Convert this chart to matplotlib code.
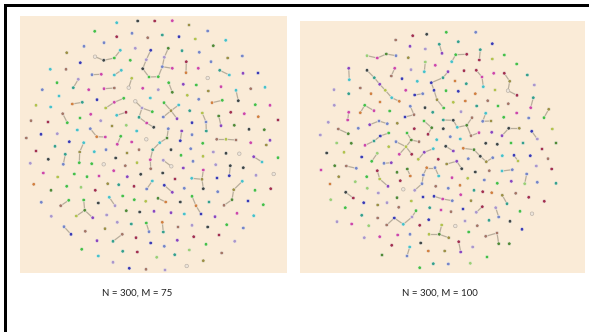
import matplotlib
matplotlib.use("Agg")
import matplotlib.pyplot as plt
from matplotlib.patches import Rectangle
from matplotlib.collections import LineCollection

# ---------------- data (reference pixel coordinates, y downward) ----------------
captions = ["N = 300, M = 75", "N = 300, M = 100"]

x1 = [116.7,137.7,94.7,116.7,132,147.7,104,84,135.3,150.7,66.7,95,103.7,114.3,120.3,80.3,130.3,146.3,142.7,149,
      50.3,66,92,101.3,114.3,121.3,131.7,128.7,78.3,73.3,57,42.3,88.7,104,114.3,142.7,59,97,150.3,36,
      50.7,72.3,82.3,105.7,114.3,123.7,135.3,142,152.3,139,146.7,153.7,62.7,67.3,31,48,80,90.7,100.7,116.7,
      126,112,126.3,136.7,26.3,41,57.3,77.3,90.3,96.7,105.3,120.7,131.7,146.3,83.7,69.3,
      154.7,172.3,189,162.3,179,207.7,195.3,225.7,213.3,168.3,164.3,162.3,158.3,172.3,182,199.3,211,227.7,242.3,186.3,
      186,198.3,207.7,219.7,229.3,243,258,158.3,183.3,196.3,168.7,172.3,187.3,198.7,208.3,221,236,238.3,250.7,265,
      212,222.3,164,178.7,171,163.3,177,189.7,202.3,206,206.3,218.7,221,230.7,244.3,255.3,270,258.3,278,192,
      168.3,167,159.7,181.7,180.3,192,234.3,249,264.3,216.7,226,236,250.7,270,202.7,
      117.3,55,36,48.3,30.3,65.3,63.3,79.7,79.3,94.3,106,91.7,103.7,115.7,127,139,125.3,137,150.3,150.7,
      43.3,57.7,74.3,87,99,113.7,127.3,140.7,33.7,66.7,51,81,95.3,107.7,118.7,134,146.7,109.3,115,122.7,
      134.3,145.7,41.3,68.7,60.7,83.7,84.7,76.3,92.7,98.3,126.3,139.7,51.3,106.7,117.3,131.3,146.3,149,64,71,
      85.3,105,122.3,113,136,97,150.7,81.7,122.7,137.3,98.3,113,129.3,146,
      171,190.7,213.3,226,239.3,266.3,152.7,181,203,253.7,262,278,163.3,171.3,183.3,193,215.7,230.3,229.3,243.3,
      256,273.7,203.3,202,191.7,203.3,162.7,175,217,152.3,164.3,172.3,184.3,217.7,242.3,233.7,232,224,255,270.7,
      158,165.7,180.3,192,196,201,209,248,263.3,154,171,184.3,215,237,253.7,162.3,163.3,192,226.7,178,
      207.7,243.3,219,193.7,177.3,234.7,164.3,189.3,206,174.7,156.7,221.7,203.3,186.7,165]
y1 = [22.7,21,31.3,36.7,33.3,37.7,42.7,46.3,48.3,50.3,52.7,56.7,60.3,58,50.3,62.7,60.3,59.7,68.7,77,
      69.3,69.3,74.7,74.3,75,70.3,78.3,87.7,79.3,87.7,82.7,89.7,89.7,88.7,88,88.3,96,99.7,98,105.3,
      107,104,102.3,108,102.3,98.3,101.3,108,111.7,117.3,123,127.3,113.7,122.7,120.7,122,118,114.3,120.7,115.3,
      112.3,126,125.3,131,138,134.3,133.7,130,128.7,136.7,137,136.3,142,139.3,142.7,141.7,
      21,20.7,25,35,36.7,31,39,40.3,45.7,48.3,57.3,66.7,76.7,68.3,50.7,52.3,61.7,58,56,61.7,
      72.7,68.3,78,70.3,75,73.3,73,89.7,84.3,85,82.7,92.3,95.3,99.3,91,86.7,90.3,100.7,88.7,87.3,
      102.7,100.3,102.7,105,110.7,117,118.7,110.7,113,122,131,116,125.7,112.3,113.7,104.7,105.3,116.7,120,122.7,
      128.7,138,142.7,131,140.7,134.7,125.3,129.3,129.7,139.3,139.3,140,142.7,140.3,143.3,
      144.3,146.3,151,159.3,163.3,154.3,164.3,152,162.7,151.7,149.7,163.7,164.3,158,153,149.7,165.7,162.7,159.7,168.7,
      173,177,174,176.7,176,170.7,176.7,174.3,184.3,186.3,190.3,187.3,190.3,183.7,184.7,186.3,189,197.3,205.7,196,
      199.7,201.3,202.3,200.3,205.7,200,210.3,216,217.7,203,210.7,212,216.3,215,222.3,224,223,231.7,226.7,234.3,
      231.3,228.7,234.3,241.3,237.7,240.7,243,249.3,251.3,252,256,262.3,268.3,269.3,
      149.7,148.7,152,153.3,153.7,145,149.7,155.3,156.3,156.7,162,157.7,160.3,166.3,168,161.3,164.7,165.7,175.7,167.7,
      175.3,174,170,179.3,178.3,188.7,173,179,178,181,185.3,192.3,188.3,191.7,181.3,189.7,199.7,205.3,190.3,188.7,
      198.3,202,202,196.3,205.7,214,202,201,204.7,211.3,212.7,214,216.7,213.3,215.7,222.3,232,225.3,224.7,227,
      227,228,235,236.7,240.3,241.3,246.3,250,244.3,254.7,257.3,253,260.7,266,270]
c1 = ("ckgrsnsslb" "owkgcbglkg" "cnsmccywlt" "gsmmnmcbcy" "cetymgwlgt" "mkngnrgmlc" "roqcnblcse" "mgmwcb"
      "rmotbsycGG" "lsgmtssosr" "emwtcpblpg" "gGysomcknc" "eggcosptys" "tGprmgmerb" "sGcpbsGkGn" "ynmpg"
      "mtrkltsogc" "sgwkonnymn" "myggmmpkeg" "Gqrotrsclg" "gysgngGypk" "Gkllltgssb" "nontrpbgtr" "clbn"
      "kslkwotgyp" "cglwpslkbk" "lwmockkrbc" "bpsscoGngr" "Gekgebtbgp" "pcpmcetlgn" "ksrrplsqgt" "qnowl")
e1 = [(11,12),(12,13),(13,14),(9,17),(17,18),(18,19),(19,88),(22,23),(24,25),(26,27),(28,29),(33,34),
      (41,42),(43,44),(44,45),(46,47),(47,48),(47,49),(49,50),(50,51),(52,53),(59,60),(68,69),(69,70),(71,151),
      (85,86),(86,87),(87,88),(87,89),(95,96),(99,100),(106,107),(112,113),(116,117),(118,120),(119,120),
      (120,121),(120,122),(124,125),(125,126),(127,128),(136,137),(137,138),(139,140),(145,146),(146,147),
      (74,158),(158,159),(156,157),(188,189),(194,195),(196,197),(197,198),(197,199),(207,208),(209,210),(213,214),
      (138,231),(231,169),(169,170),(187,254),(234,235),(237,238),(242,243),(247,248),(249,248),(248,250),
      (255,256),(259,260),(260,261),(261,262),(265,266),(268,269),(269,270),(280,281)]

x2 = [395.7,412.7,426.7,410,425.3,439.3,442,367,377.3,386.3,396,408.3,435.3,425.3,424.3,348.7,349.3,367,374.3,379.7,
      385.3,391.7,399.3,394.7,391.3,411,402,417.3,431.3,443,434,437,334,348.7,360.3,371,405.7,414.7,422.7,334.3,
      348.7,347.7,364.7,360.3,374,380,389.7,410.3,414,405,425,432.7,328.3,338.3,348.3,358.3,369.7,379,387.3,397.3,
      414.3,424,431.7,428,320.3,336.7,351.3,365,374,380.3,388.7,396,407,411.3,419,436.7,
      446.3,475.7,458.3,492.3,455.7,466.7,451.7,480.3,479.3,504.3,492.3,516.7,448,464,476.3,482,483.3,493.7,504.3,509.7,
      508,517,527.3,534.3,455,466.3,446,458.3,475.3,495,453.3,465.3,476.7,487.7,498,508.3,533.3,530.7,443.7,461,
      485.7,482.7,491,472,466.7,457.3,453.3,443.3,471,479,503.7,516.7,528.7,491.7,502,508.7,519.3,531.7,537.3,544,
      548.7,552.3,443.3,450.3,460.3,485.7,497.3,511,523,556,
      445.7,453.3,463.3,474,480.3,486.3,492.7,502.3,514,518,530.3,542,548,551.7,536.3,456.7,446.7,461.7,468.3,475.3,
      489.3,502,512.3,526.7,524.7,452,467.7,484.3,497.3,511.3,537.3,556,448.3,460,474,482.7,491.7,502.3,507,515.7,
      528.7,544.3,442.7,452.3,460.7,471,463,451,482.3,476.3,495.7,498.7,520,532,455.3,465,477.3,489,510,522,
      448.7,468.7,485.7,497,498.7,509.3,458.7,460.7,472.7,444.7,487,448.3,470.3,
      326.7,344,361.7,377.3,371.7,388.7,399.3,406,411.7,384,391.3,424.3,433.3,418.3,438.3,426.7,435,438.7,423.3,422,
      414.7,321,334.7,346.3,356.3,338.7,355.3,366.7,377.3,379.7,388,397,400.3,407.3,410.3,330,367.3,378.3,403.3,435.7,
      345.7,353.3,330.7,363.7,377.7,387,397,411.3,423,434,345.3,361.7,377.7,398.7,416,429.7,441,337,351.7,368.7,
      386.7,394.3,403.3,412,419.7,428.7,429,439.3,441.7,364.3,379.7,397.7,410,420.7,391.7,409.7,407,428.3,382,419.7,
      433.3]
y2 = [40,35.7,34.3,46.3,49,44.3,53.3,55.7,58,54,55.7,57.7,65.3,62,71.7,68.3,79.7,70.3,77.7,84.3,
      90.3,97.7,101.3,68.3,76,69.7,78.7,81.3,82.7,77.7,90.3,99.7,89.7,93.7,88,93.7,90.3,95,93.7,105.3,
      112.3,120,105.3,112.7,110.7,102,111,106.3,114.7,117,107.7,112.3,122.3,129,133.7,128.3,124.7,121,123.7,123.3,
      128.7,121,127.7,134.3,135,143,143.3,145.3,141,136,133,141.7,133,140,141.7,139.7,
      32.3,32.3,41.7,43.7,54.7,54.3,61.7,49.7,60,55,59,64,71.7,70.7,70.3,77,86.7,73.3,73.3,81.3,
      90.7,95.3,75,85,81,83.7,90.7,91.3,93.7,90,102.3,101,106,100.7,106,103.7,97.7,107.7,108,111.7,
      113.3,121.3,121,117.7,125.3,127.3,120.3,120,135.7,132.7,117.3,113,118,132.3,135.7,128.3,128.3,131.3,139,117.7,
      109.3,129,128.7,136.7,139,143.3,144.3,143,143,143,
      146.3,151,148.3,149.7,156.3,161.7,157.7,155.7,155.3,161,155.7,149,158.7,169,166,161.3,164,168.7,158.7,172,
      170.7,171,169.7,174,183.7,177.7,178.3,180,183.3,181.3,182.3,183.3,188.3,185.3,190.3,191.7,192.7,195.3,203.7,193.3,
      197.3,201.3,199,200.7,194.7,200.7,209,211.7,206.7,212.3,207.7,217,211.3,213.7,226,221,225.7,220.3,221.3,229.3,
      237.7,232,236.3,233,243.7,243.7,241.7,252,247,251,257,264,263.3,
      153,152.3,157,153.3,161.3,146.7,154.3,146.7,154.3,163.3,162.7,152.3,148.7,159.3,159.3,167.7,167.7,176,175,183.7,
      190.3,170,165.7,166,168.3,176.7,181.7,176.7,170.7,179,186.3,172.3,180.7,169,176,184,188.3,193,189.3,186.3,
      192.3,198,199.7,202.7,205,202.7,197.7,201,197,196.3,207.7,215.3,218,207.3,210.7,207.7,210,221.7,224,225.7,
      225,218,224.3,217,225.3,219.7,234.3,234.3,225,237.7,236.7,235,234.3,243,245.3,247,256,251,255,267.7,
      263.7]
c2 = ("nrkpltpqmG" "somqcpcktp" "ycemnlbcbt" "boltnembsl" "mmgemegsnb" "ktlnGspsso" "rgGrlqGmtb" "gsgGnc"
      "gstbgrctrg" "ygprrmcmro" "wrtletgbey" "yetngntmgl" "csonGcktnm" "gmsppkoblg" "oyksckkgtG"
      "kpeGkoscby" "brnrlpoksk" "ncssqmysgp" "stsetreotn" "rrmsmobnrl" "lsgwwlntkb" "ognnGGrplo" "gsq"
      "kybqgymyrs" "ppcyrescss" "lmGnsoqgry" "pGrGeeqlwn" "krqbolGybb" "gtnngtmlmq" "nbclrbyGyl" "mmskrcseGg" "t")
e2 = [(5,6),(7,8),(8,9),(9,10),(13,14),(15,16),(17,18),(18,19),(19,20),(20,21),(21,22),(23,24),
      (28,29),(28,30),(30,31),(31,114),(29,88),(37,38),(40,41),(42,43),(42,44),(47,48),(48,49),(53,54),
      (56,57),(57,58),(61,62),(62,63),(67,68),(68,69),(69,70),(71,226),(226,225),(226,227),(73,226),(72,73),(73,74),
      (80,81),(80,82),(83,84),(90,91),(91,92),(94,95),(95,96),(96,97),(112,113),(116,117),(117,118),
      (123,122),(122,121),(121,120),(120,119),(120,124),(124,125),(130,131),(131,132),(133,134),(135,136),
      (146,147),(148,149),(149,150),(150,151),(151,152),(154,155),(162,161),(161,163),(167,168),(169,170),
      (183,184),(188,189),(194,195),(196,197),(208,209),(209,210),(212,213),
      (222,223),(228,229),(232,230),(230,231),(234,235),(235,236),(234,237),(237,238),(238,239),(242,243),
      (247,248),(248,249),(252,253),(259,260),(268,188),(279,280),(280,281),(281,282),(282,273),
      (285,286),(286,206),(286,287),(294,295)]

# ---------------- styles ----------------
palette = {
    'p': '#8b45bf', 'b': '#3a3ab5', 's': '#7585c8', 'l': '#ab96cc', 'g': '#45c045',
    'G': '#528a35', 'q': '#9ccf74', 'y': '#b4c24b', 'o': '#9d9045', 'k': '#3f4646',
    'n': '#a57666', 'r': '#a32f4e', 'm': '#d045a8', 'c': '#45c2ca', 't': '#35a08c',
    'e': '#d2803f', 'w': '#ece4da',
}
BG = '#FAEBD7'
EDGE = '#b8ae9c'

W, H = 589, 332
fig = plt.figure(figsize=(W / 100, H / 100), dpi=100)
fig.patch.set_facecolor('white')

# black frame lines (top and left)
fig.add_artist(Rectangle((4 / W, 1 - 6.7 / H), (W - 4) / W, 2.7 / H,
                         transform=fig.transFigure, color='black', lw=0))
fig.add_artist(Rectangle((4 / W, 0), 3.3 / W, 1 - 4 / H,
                         transform=fig.transFigure, color='black', lw=0))

panels = [
    (x1, y1, c1, e1, (20, 287, 16, 273), 137),
    (x2, y2, c2, e2, (300, 585, 21, 273), 440),
]

for (xs, ys, cs, es, (l, r, t, b), cap_x), cap in zip(panels, captions):
    assert len(xs) == len(ys) == len(cs), (len(xs), len(ys), len(cs))
    ax = fig.add_axes([l / W, 1 - b / H, (r - l) / W, (b - t) / H])
    ax.set_facecolor(BG)
    ax.set_xlim(l, r)
    ax.set_ylim(b, t)
    ax.set_xticks([])
    ax.set_yticks([])
    for sp in ax.spines.values():
        sp.set_visible(False)
    segs = [[(xs[i], ys[i]), (xs[j], ys[j])] for i, j in es]
    ax.add_collection(LineCollection(segs, colors=EDGE, linewidths=0.9, zorder=1))
    cols = [palette[ch] for ch in cs]
    edgec = ['#b9b0a6' if ch == 'w' else '#f3ece2' for ch in cs]
    ax.scatter(xs, ys, s=6.5, c=cols, edgecolors=edgec, linewidths=0.45, zorder=2)
    fig.text(cap_x / W, 1 - 293 / H, cap, ha='center', va='center',
             fontsize=7, family=['Lato', 'DejaVu Sans'], color='#222222')

fig.savefig('out.png', dpi=100)
